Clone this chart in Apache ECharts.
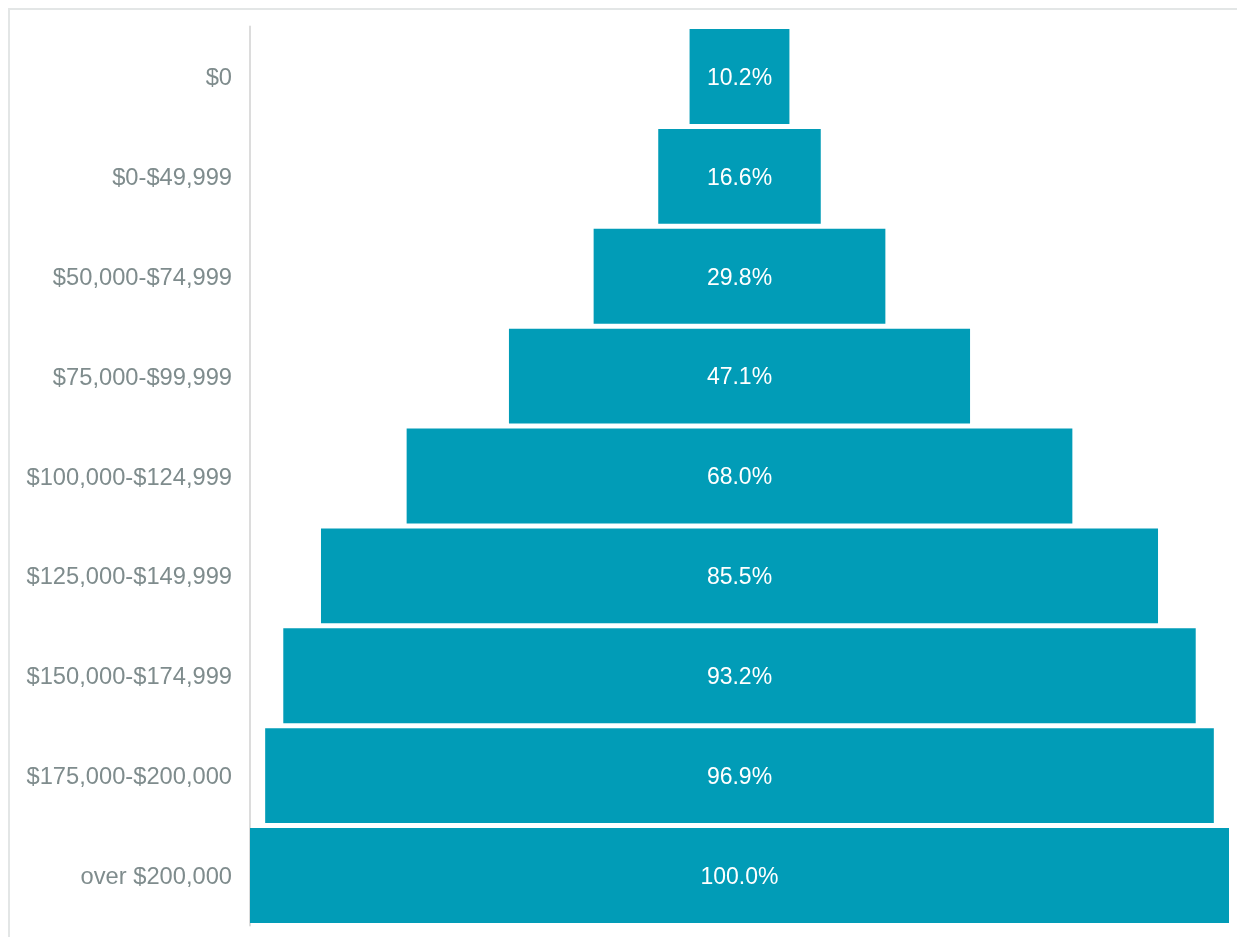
<!DOCTYPE html>
<html>
<head>
<meta charset="utf-8">
<script src="https://cdn.jsdelivr.net/npm/echarts@6/dist/echarts.min.js"></script>
<style>
html,body{margin:0;padding:0;background:#fff;}
#frame{position:absolute;left:8px;top:8px;width:1300px;height:1000px;border-top:2px solid #e3e6e6;border-left:2px solid #e3e6e6;}
#chart{position:absolute;left:0;top:0;width:1237px;height:937px;}
</style>
</head>
<body>
<div id="frame"></div>
<div id="chart"></div>
<script>
const categories = ['$0','$0-$49,999','$50,000-$74,999','$75,000-$99,999','$100,000-$124,999','$125,000-$149,999','$150,000-$174,999','$175,000-$200,000','over $200,000'];
const values = [10.2, 16.6, 29.8, 47.1, 68.0, 85.5, 93.2, 96.9, 100.0];
const total = 100;

const spacer = values.map(v => (total - v) / 2);

const chart = echarts.init(document.getElementById('chart'));
chart.setOption({
  animation: false,
  grid: {left: 250, right: 8, top: 26.5, bottom: 11.5, containLabel: false},
  xAxis: {type: 'value', min: 0, max: total, show: false},
  yAxis: {
    type: 'category', data: categories, inverse: true,
    axisLine: {show: true, lineStyle: {color: '#dcdcdc', width: 2}},
    axisTick: {show: false},
    axisLabel: {
      margin: 18,
      formatter: v => '{a|' + v + '}',
      rich: {a: {color: '#7f8c8d', fontSize: 23.7, fontFamily: 'Liberation Sans, Arial, sans-serif', padding: [4, 0, 0, 0]}}
    },
    splitLine: {show: false}
  },
  series: [
    {type: 'bar', stack: 'f', data: spacer, itemStyle: {color: 'transparent'}, barCategoryGap: '5%', silent: true},
    {type: 'bar', stack: 'f', data: values, itemStyle: {color: '#019cb7'}, barCategoryGap: '5%',
      label: {show: true, position: 'inside', color: '#ffffff', fontSize: 23, fontFamily: 'Liberation Sans, Arial, sans-serif',
        offset: [0, 2],
        formatter: p => p.value.toFixed(1) + '%'}}
  ]
});
</script>
</body>
</html>
